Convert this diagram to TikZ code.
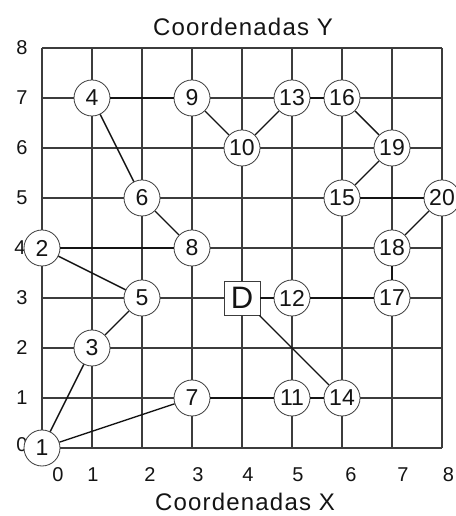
\documentclass[tikz,border=0pt]{standalone}
\usepackage{fontspec}
\setmainfont{Liberation Sans}
\newfontfamily\wideFont[LetterSpace=5]{Liberation Sans}
\usetikzlibrary{positioning}
\definecolor{gridGray}{RGB}{60,60,60}
\definecolor{inkBlack}{RGB}{20,20,20}
\tikzset{
  grid line/.style={draw=gridGray,line width=1.1pt},
  stop node/.style={circle,draw=gridGray,fill=white,line width=0.8pt,minimum size=36pt,inner sep=0pt,text=inkBlack,font=\fontsize{23}{23}\selectfont},
  depot node/.style={rectangle,draw=gridGray,fill=white,line width=0.9pt,minimum width=36pt,minimum height=34pt,inner sep=0pt,text=inkBlack,font=\fontsize{31}{31}\selectfont},
  route/.style={draw=inkBlack,line width=1.4pt},
  axis label/.style={text=inkBlack,inner sep=0pt,font=\fontsize{20}{20}\selectfont},
  axis title/.style={text=inkBlack,inner sep=0pt,font=\wideFont\fontsize{24}{24}\selectfont}
}
\begin{document}
\begin{tikzpicture}[x=50pt,y=50pt]
    \useasboundingbox[fill=white] (-0.84,-1.36) rectangle (8.26,8.96);
    % grid and axes
    \draw[grid line] (0,0) grid[step=1] (8,8);
    \node[axis title] (titleY) at (4.02,8.42) {Coordenadas Y};
    \node[axis title] (titleX) at (4.06,-1.08) {Coordenadas X};
    \node[axis label] (y0) at (-0.4,0.06) {0};
    \node[axis label] (y1) at (-0.4,1) {1};
    \node[axis label] (y2) at (-0.4,2) {2};
    \node[axis label] (y3) at (-0.4,3) {3};
    \node[axis label] (y4) at (-0.44,4) {4};
    \node[axis label] (y5) at (-0.4,5) {5};
    \node[axis label] (y6) at (-0.4,6) {6};
    \node[axis label] (y7) at (-0.4,7) {7};
    \node[axis label] (y8) at (-0.4,8) {8};
    \node[axis label] (x0) at (0.32,-0.54) {0};
    \node[axis label] (x1) at (1.02,-0.54) {1};
    \node[axis label] (x2) at (2.16,-0.54) {2};
    \node[axis label] (x3) at (3.12,-0.54) {3};
    \node[axis label] (x4) at (4.12,-0.54) {4};
    \node[axis label] (x5) at (5.12,-0.54) {5};
    \node[axis label] (x6) at (6.18,-0.54) {6};
    \node[axis label] (x7) at (7.22,-0.54) {7};
    \node[axis label] (x8) at (8.13,-0.54) {8};
    % stops
    \node[stop node] (n1) at (0,0) {1};
    \node[stop node] (n2) at (0,4) {2};
    \node[stop node] (n3) at (1,2) {3};
    \node[stop node] (n4) at (1,7) {4};
    \node[stop node] (n5) at (2,3) {5};
    \node[stop node] (n6) at (2,5) {6};
    \node[stop node] (n7) at (3,1) {7};
    \node[stop node] (n8) at (3,4) {8};
    \node[stop node] (n9) at (3,7) {9};
    \node[stop node] (n10) at (4,6) {10};
    \node[stop node] (n11) at (5,1) {11};
    \node[stop node] (n12) at (5,3) {12};
    \node[stop node] (n13) at (5,7) {13};
    \node[stop node] (n14) at (6,1) {14};
    \node[stop node] (n15) at (6,5) {15};
    \node[stop node] (n16) at (6,7) {16};
    \node[stop node] (n17) at (7,3) {17};
    \node[stop node] (n18) at (7,4) {18};
    \node[stop node] (n19) at (7,6) {19};
    \node[stop node] (n20) at (8,5) {20};
    \node[depot node] (depot) at (4,3) {D};
    % route
    \draw[route] (n4) -- (n9);
    \draw[route] (n4) -- (n6);
    \draw[route] (n6) -- (n8);
    \draw[route] (n9) -- (n10);
    \draw[route] (n10) -- (n13);
    \draw[route] (n13) -- (n16);
    \draw[route] (n16) -- (n19);
    \draw[route] (n19) -- (n15);
    \draw[route] (n15) -- (n20);
    \draw[route] (n20) -- (n18);
    \draw[route] (n18) -- (n17);
    \draw[route] (n17) -- (n12);
    \draw[route] (n12) -- (depot);
    \draw[route] (depot) -- (n14);
    \draw[route] (n14) -- (n11);
    \draw[route] (n11) -- (n7);
    \draw[route] (n7) -- (n1);
    \draw[route] (n1) -- (n3);
    \draw[route] (n3) -- (n5);
    \draw[route] (n5) -- (n2);
    \draw[route] (n2) -- (n8);
  \end{tikzpicture}
\end{document}
